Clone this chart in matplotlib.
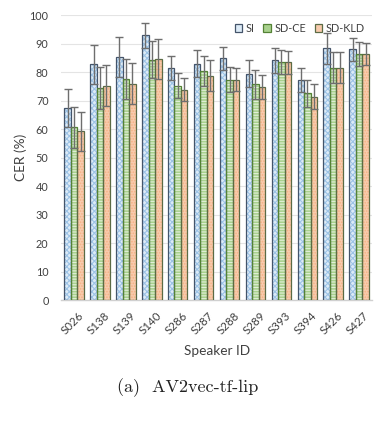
import matplotlib
matplotlib.use("Agg")
import matplotlib.pyplot as plt
import matplotlib.transforms as mtransforms
import numpy as np

speakers = ["S026", "S138", "S139", "S140", "S286", "S287", "S288", "S289", "S393", "S394", "S426", "S427"]
si = [67.4, 82.8, 85.4, 92.9, 81.6, 83.0, 84.8, 79.5, 84.1, 77.2, 88.3, 88.0]
sd_ce = [60.6, 74.4, 77.7, 84.3, 75.3, 80.4, 77.4, 75.7, 83.5, 72.5, 81.6, 86.5]
sd_kld = [59.2, 75.3, 76.0, 84.7, 73.9, 78.8, 77.4, 74.8, 83.5, 71.3, 81.6, 86.5]
si_err = [6.8, 6.8, 7.1, 4.3, 4.2, 4.6, 4.1, 4.6, 4.5, 4.3, 5.3, 4.0]
sd_ce_err = [7.1, 7.4, 7.0, 6.5, 4.3, 5.2, 4.5, 5.2, 4.3, 4.7, 5.5, 4.2]
sd_kld_err = [6.9, 7.1, 7.2, 7.0, 4.2, 5.5, 4.2, 4.3, 4.0, 4.4, 5.3, 3.9]
series_names = ["SI", "SD-CE", "SD-KLD"]

plt.rcParams['font.family'] = ['Lato', 'DejaVu Sans']
plt.rcParams['hatch.linewidth'] = 0.8

fig = plt.figure(figsize=(3.82, 4.21), dpi=100)
ax = fig.add_axes([0.160, 0.2874, 0.814, 0.6766])

x = np.arange(len(speakers))
w = 0.25
styles = [
    dict(face="#DDEBF7", hatch="xxxxxx", hcol="#9DC3E6", edge="#44546A"),
    dict(face="#A9D18E", hatch="------", hcol="#E2F0D9", edge="#548235"),
    dict(face="#F8CBAD", hatch="......", hcol="#F4B183", edge="#5B6B45"),
]
data = [si, sd_ce, sd_kld]
errs = [si_err, sd_ce_err, sd_kld_err]
handles = []
for i, (vals, er, st, name) in enumerate(zip(data, errs, styles, series_names)):
    pos = x + (i - 1) * w
    ax.bar(pos, vals, w, color=st["face"], hatch=st["hatch"], edgecolor=st["hcol"],
           linewidth=0, zorder=2)
    h = ax.bar(pos, vals, w, facecolor="none", edgecolor=st["edge"], linewidth=0.9,
               zorder=3, label=name)
    ax.errorbar(pos, vals, yerr=er, fmt="none", ecolor="#6E6E6E", elinewidth=1.0,
                capsize=3.2, capthick=1.0, zorder=4)
    handles.append(h)

ax.set_xlim(-0.5, len(speakers) - 0.5)
ax.set_ylim(0, 100)
ax.set_yticks(np.arange(0, 101, 10))
ax.yaxis.grid(True, color="#E4E4E4", linewidth=0.8, zorder=0)
ax.set_axisbelow(True)
for s in ["left", "right", "top"]:
    ax.spines[s].set_visible(False)
ax.spines["bottom"].set_color("#D0D0D0")
ax.spines["bottom"].set_linewidth(1.0)
ax.tick_params(axis="y", length=0, labelsize=7.8, colors="#404040", pad=9)
ax.tick_params(axis="x", length=0, labelsize=8.3, colors="#404040", pad=7)
ax.set_xticks(x)
ax.set_xticklabels(speakers, rotation=45, ha="right", rotation_mode="anchor")
offset = mtransforms.ScaledTranslation(4 / 100, 0, fig.dpi_scale_trans)
for lbl in ax.get_xticklabels():
    lbl.set_transform(lbl.get_transform() + offset)
ax.set_ylabel("CER (%)", fontsize=9.8, color="#404040", labelpad=2)
ax.set_xlabel("Speaker ID", fontsize=9.8, color="#404040", labelpad=6)

leg = ax.legend(handles=handles, labels=series_names, loc="upper right",
                bbox_to_anchor=(1.0, 1.0), ncol=3, frameon=False, fontsize=7.8,
                handlelength=0.7, handleheight=0.7, handletextpad=0.3, columnspacing=0.8,
                labelcolor="#404040", borderaxespad=0.3)
for patch, st in zip(leg.get_patches(), styles):
    patch.set_facecolor(st["face"])
    patch.set_edgecolor(st["edge"])

fig.text(0.492, 1 - 388 / 421, "(a)  AV2vec-tf-lip", family="cmr10", fontsize=13,
         ha="center", va="center", color="#222222")

fig.savefig("out.png", dpi=100)
